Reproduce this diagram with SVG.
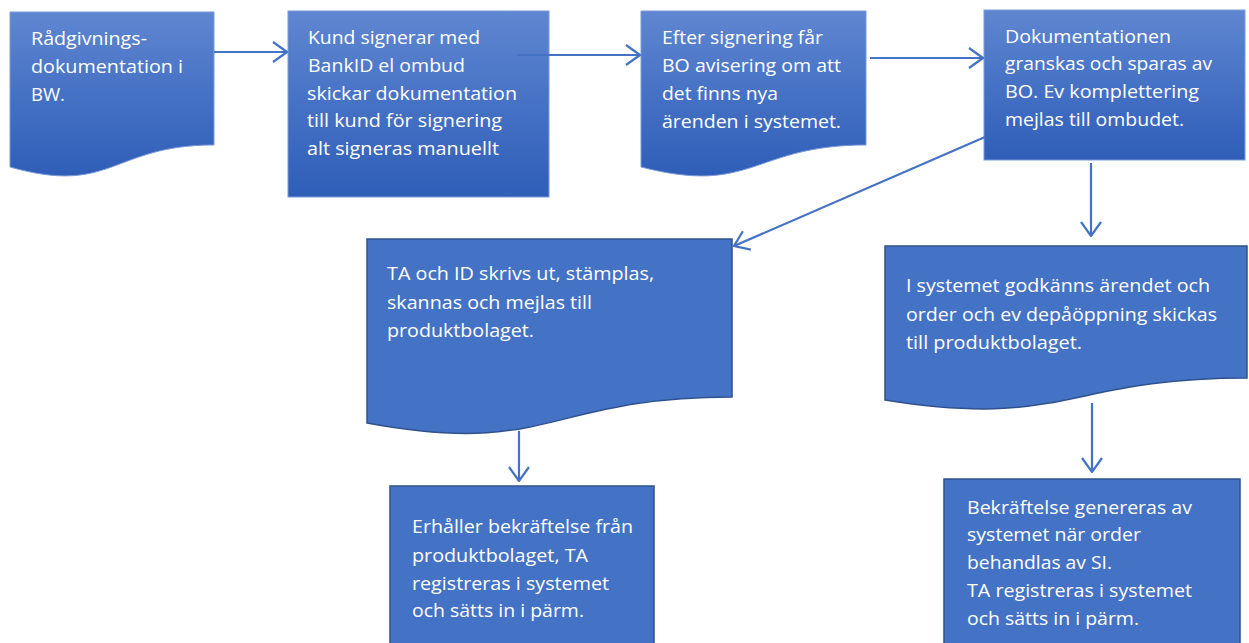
<svg xmlns="http://www.w3.org/2000/svg" width="1249" height="643" viewBox="0 0 1249 643">
<defs>
<linearGradient id="grad" x1="0" y1="0" x2="0" y2="1">
<stop offset="0" stop-color="#5F86D0"/>
<stop offset="0.5" stop-color="#4672C5"/>
<stop offset="1" stop-color="#2F5EB8"/>
</linearGradient>
<marker id="arr" viewBox="0 0 16 22" refX="15" refY="11" markerWidth="16" markerHeight="22" markerUnits="userSpaceOnUse" orient="auto">
<path d="M1,1 L15,11 L1,21" fill="none" stroke="#4472C4" stroke-width="2.2"/>
</marker>
</defs>
<style>
.g{fill:url(#grad);stroke:#7A9AD8;stroke-width:1}
.f{fill:#4472C4;stroke:#2F528F;stroke-width:1.5}
.t{font-family:"Open Sans","Noto Sans",sans-serif;font-size:18px;fill:#FFFFFF}
.c{stroke:#4472C4;stroke-width:2.2;fill:none;marker-end:url(#arr)}
</style>
<rect width="1249" height="643" fill="#FFFFFF"/>
<g id="n1">
<path class="g" d="M10,12 H214 V145 C112,145 112,196 10,167 Z"/>
<text class="t"><tspan x="31" y="45" textLength="116" lengthAdjust="spacingAndGlyphs">Rådgivnings-</tspan><tspan x="31" y="73" textLength="152" lengthAdjust="spacingAndGlyphs">dokumentation i</tspan><tspan x="31" y="101" textLength="34" lengthAdjust="spacingAndGlyphs">BW.</tspan></text>
</g>
<g id="n2">
<rect class="g" x="288" y="11" width="261" height="186"/>
<text class="t"><tspan x="308" y="44" textLength="172" lengthAdjust="spacingAndGlyphs">Kund signerar med</tspan><tspan x="308" y="72" textLength="157" lengthAdjust="spacingAndGlyphs">BankID el ombud</tspan><tspan x="307" y="100" textLength="210" lengthAdjust="spacingAndGlyphs">skickar dokumentation</tspan><tspan x="307" y="127" textLength="195" lengthAdjust="spacingAndGlyphs">till kund för signering</tspan><tspan x="307" y="155" textLength="192" lengthAdjust="spacingAndGlyphs">alt signeras manuellt</tspan></text>
</g>
<g id="n3">
<path class="g" d="M641,11 H866 V145 C753,145 753,196 641,167 Z"/>
<text class="t"><tspan x="662" y="44" textLength="161" lengthAdjust="spacingAndGlyphs">Efter signering får</tspan><tspan x="662" y="72" textLength="179" lengthAdjust="spacingAndGlyphs">BO avisering om att</tspan><tspan x="662" y="100" textLength="116" lengthAdjust="spacingAndGlyphs">det finns nya</tspan><tspan x="662" y="128" textLength="179" lengthAdjust="spacingAndGlyphs">ärenden i systemet.</tspan></text>
</g>
<g id="n4">
<rect class="g" x="984" y="10" width="261" height="150"/>
<text class="t"><tspan x="1005" y="43" textLength="166" lengthAdjust="spacingAndGlyphs">Dokumentationen</tspan><tspan x="1005" y="70" textLength="207" lengthAdjust="spacingAndGlyphs">granskas och sparas av</tspan><tspan x="1005" y="98" textLength="194" lengthAdjust="spacingAndGlyphs">BO. Ev komplettering</tspan><tspan x="1005" y="126" textLength="179" lengthAdjust="spacingAndGlyphs">mejlas till ombudet.</tspan></text>
</g>
<g id="n5">
<path class="f" d="M367,239 H732 V397 C549,397 549,457 367,423 Z"/>
<text class="t"><tspan x="387" y="280" textLength="267" lengthAdjust="spacingAndGlyphs">TA och ID skrivs ut, stämplas,</tspan><tspan x="387" y="309" textLength="205" lengthAdjust="spacingAndGlyphs">skannas och mejlas till</tspan><tspan x="387" y="337" textLength="147" lengthAdjust="spacingAndGlyphs">produktbolaget.</tspan></text>
</g>
<g id="n6">
<path class="f" d="M885,246 H1247 V378 C1066,378 1066,429 885,400 Z"/>
<text class="t"><tspan x="906" y="292" textLength="304" lengthAdjust="spacingAndGlyphs">I systemet godkänns ärendet och</tspan><tspan x="906" y="321" textLength="311" lengthAdjust="spacingAndGlyphs">order och ev depåöppning skickas</tspan><tspan x="906" y="349" textLength="176" lengthAdjust="spacingAndGlyphs">till produktbolaget.</tspan></text>
</g>
<g id="n7">
<rect class="f" x="390" y="486" width="264" height="170"/>
<text class="t"><tspan x="412" y="533" textLength="221" lengthAdjust="spacingAndGlyphs">Erhåller bekräftelse från</tspan><tspan x="412" y="562" textLength="176" lengthAdjust="spacingAndGlyphs">produktbolaget, TA</tspan><tspan x="412" y="590" textLength="197" lengthAdjust="spacingAndGlyphs">registreras i systemet</tspan><tspan x="412" y="617" textLength="172" lengthAdjust="spacingAndGlyphs">och sätts in i pärm.</tspan></text>
</g>
<g id="n8">
<rect class="f" x="944" y="479" width="296" height="177"/>
<text class="t"><tspan x="967" y="514" textLength="225" lengthAdjust="spacingAndGlyphs">Bekräftelse genereras av</tspan><tspan x="967" y="541" textLength="174" lengthAdjust="spacingAndGlyphs">systemet när order</tspan><tspan x="967" y="569" textLength="145" lengthAdjust="spacingAndGlyphs">behandlas av SI.</tspan><tspan x="967" y="597" textLength="225" lengthAdjust="spacingAndGlyphs">TA registreras i systemet</tspan><tspan x="967" y="625" textLength="172" lengthAdjust="spacingAndGlyphs">och sätts in i pärm.</tspan></text>
</g>
<g id="connectors">
<line class="c" x1="214" y1="52" x2="287" y2="52"/>
<line class="c" x1="517" y1="55" x2="640" y2="55"/>
<line class="c" x1="870" y1="58" x2="983" y2="58"/>
<line class="c" x1="985" y1="137" x2="734" y2="246"/>
<line class="c" x1="1091" y1="163" x2="1091" y2="236"/>
<line class="c" x1="519" y1="431" x2="519" y2="481"/>
<line class="c" x1="1092" y1="403" x2="1092" y2="472"/>
</g>
</svg>
